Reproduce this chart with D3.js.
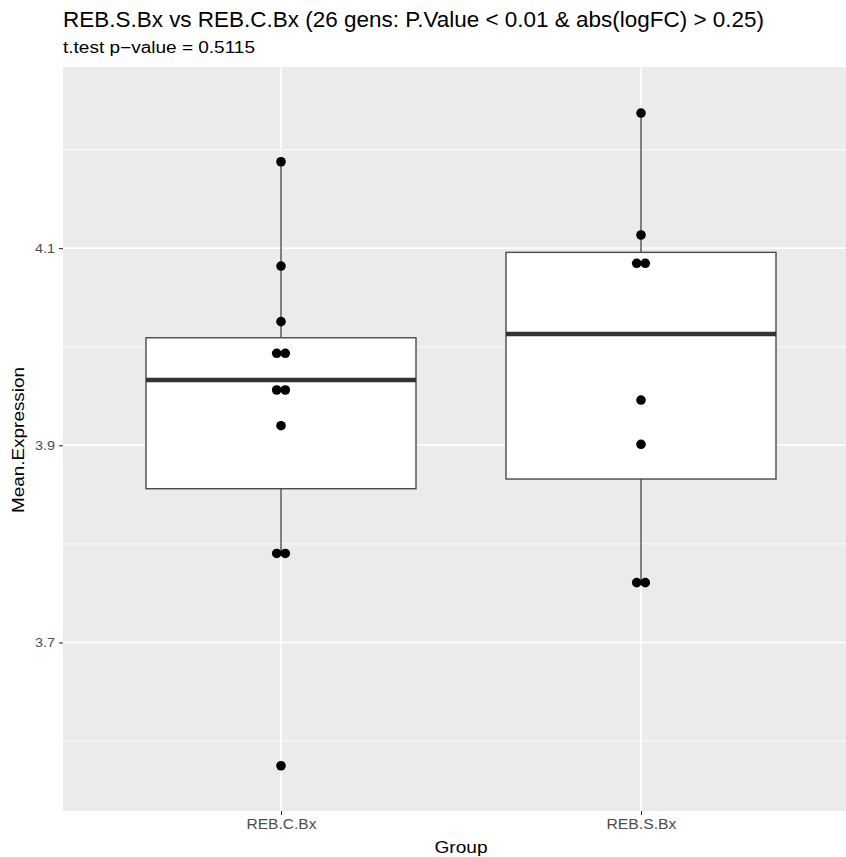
<!DOCTYPE html>
<html>
<head>
<meta charset="utf-8">
<script src="https://cdn.jsdelivr.net/npm/d3@7/dist/d3.min.js"></script>
<style>
  html, body { margin: 0; padding: 0; background: #ffffff; }
  svg { display: block; }
  text { font-family: "Liberation Sans Narrow", "Liberation Sans", Arial, sans-serif; }
</style>
</head>
<body>
<svg id="chart" width="846" height="857"></svg>
<script>
// Groups on the x axis
const groups = ["REB.C.Bx", "REB.S.Bx"];

// Box statistics per group: lower whisker, Q1, median, Q3, upper whisker
const whiskerLow  = [3.7905, 3.7607];
const q1          = [3.8560, 3.8658];
const median      = [3.9662, 4.0129];
const q3          = [4.0091, 4.0957];
const whiskerHigh = [4.1876, 4.2370];

// Dot-plot bins (bin centre and number of stacked dots) per group
const dotBinsC   = [4.1876, 4.0818, 4.0254, 3.9933, 3.9561, 3.9199, 3.7903, 3.5750];
const dotCountsC = [1, 1, 1, 2, 2, 1, 2, 1];
const dotBinsS   = [4.2370, 4.1133, 4.0846, 3.9459, 3.9010, 3.7607];
const dotCountsS = [1, 1, 2, 1, 1, 2];

// Axis ticks
const yMajorTicks = [3.7, 3.9, 4.1];
const yMinorTicks = [3.6, 3.8, 4.0, 4.2];
const yTickLabels = ["3.7", "3.9", "4.1"];

const titleText    = "REB.S.Bx vs REB.C.Bx (26 gens: P.Value < 0.01 & abs(logFC) > 0.25)";
const subtitleText = "t.test p\u2212value = 0.5115";
const xTitle = "Group";
const yTitle = "Mean.Expression";

// ---- layout ----
const panel = { left: 63, top: 67, right: 846, bottom: 811 };
const svg = d3.select("#chart");
const fontStack = "'Liberation Sans Narrow', 'Liberation Sans', Arial, sans-serif";

const y = d3.scaleLinear()
  .domain([3.5291, 4.2837])
  .range([panel.bottom, panel.top]);

// Discrete x scale: one unit between groups, 0.6 unit expansion on each side
const unit = 360;
const x = d3.scalePoint()
  .domain(groups)
  .range([panel.left + 218, panel.left + 218 + unit]);

// Panel background
svg.append("rect")
  .attr("x", panel.left).attr("y", panel.top)
  .attr("width", panel.right - panel.left)
  .attr("height", panel.bottom - panel.top)
  .attr("fill", "#ebebeb");

const grid = svg.append("g");
grid.selectAll(".minor").data(yMinorTicks).join("line")
  .attr("x1", panel.left).attr("x2", panel.right)
  .attr("y1", d => y(d)).attr("y2", d => y(d))
  .attr("stroke", "#ffffff").attr("stroke-width", 0.8);
grid.selectAll(".major").data(yMajorTicks).join("line")
  .attr("x1", panel.left).attr("x2", panel.right)
  .attr("y1", d => y(d)).attr("y2", d => y(d))
  .attr("stroke", "#ffffff").attr("stroke-width", 1.6);
grid.selectAll(".vmajor").data(groups).join("line")
  .attr("x1", d => x(d)).attr("x2", d => x(d))
  .attr("y1", panel.top).attr("y2", panel.bottom)
  .attr("stroke", "#ffffff").attr("stroke-width", 1.6);

// Boxplots
const boxWidth = 0.75 * unit;
const boxes = groups.map((g, i) => ({
  g, lo: whiskerLow[i], q1: q1[i], med: median[i], q3: q3[i], hi: whiskerHigh[i]
}));
const boxG = svg.append("g");
boxes.forEach(b => {
  const cx = x(b.g);
  boxG.append("line")
    .attr("x1", cx).attr("x2", cx)
    .attr("y1", y(b.hi)).attr("y2", y(b.q3))
    .attr("stroke", "#4a4a4a").attr("stroke-width", 1.4);
  boxG.append("line")
    .attr("x1", cx).attr("x2", cx)
    .attr("y1", y(b.q1)).attr("y2", y(b.lo))
    .attr("stroke", "#4a4a4a").attr("stroke-width", 1.4);
  boxG.append("rect")
    .attr("x", cx - boxWidth / 2).attr("y", y(b.q3))
    .attr("width", boxWidth).attr("height", y(b.q1) - y(b.q3))
    .attr("fill", "#ffffff").attr("stroke", "#4a4a4a").attr("stroke-width", 1.4);
  boxG.append("line")
    .attr("x1", cx - boxWidth / 2).attr("x2", cx + boxWidth / 2)
    .attr("y1", y(b.med)).attr("y2", y(b.med))
    .attr("stroke", "#333333").attr("stroke-width", 4.5);
});

// Dots, stacked centred within each bin
const dotR = 4.8;
const dotStep = 8.6;
const dots = [];
[[groups[0], dotBinsC, dotCountsC], [groups[1], dotBinsS, dotCountsS]].forEach(([g, bins, counts]) => {
  bins.forEach((v, i) => {
    const n = counts[i];
    for (let k = 0; k < n; k++) {
      dots.push({ g, v, off: (k - (n - 1) / 2) * dotStep });
    }
  });
});
svg.append("g").selectAll("circle").data(dots).join("circle")
  .attr("cx", d => x(d.g) + d.off)
  .attr("cy", d => y(d.v))
  .attr("r", dotR)
  .attr("fill", "#000000");

// Y axis
const yAxis = d3.axisLeft(y)
  .tickValues(yMajorTicks)
  .tickFormat((d, i) => yTickLabels[i])
  .tickSize(4).tickPadding(4);
const yAxisG = svg.append("g")
  .attr("transform", `translate(${panel.left},0)`)
  .call(yAxis);
yAxisG.select(".domain").remove();
yAxisG.selectAll(".tick line").attr("stroke", "#333333").attr("stroke-width", 1.1);
yAxisG.selectAll(".tick text")
  .attr("fill", "#4d4d4d").style("font-size", "13.5px")
  .style("font-family", fontStack)
  .attr("textLength", 20).attr("lengthAdjust", "spacingAndGlyphs");

// X axis
const xAxis = d3.axisBottom(x).tickSize(4).tickPadding(4);
const xAxisG = svg.append("g")
  .attr("transform", `translate(0,${panel.bottom})`)
  .call(xAxis);
xAxisG.select(".domain").remove();
xAxisG.selectAll(".tick line").attr("stroke", "#333333").attr("stroke-width", 1.1);
xAxisG.selectAll(".tick text")
  .attr("fill", "#4d4d4d").style("font-size", "14px")
  .style("font-family", fontStack)
  .attr("textLength", 70).attr("lengthAdjust", "spacingAndGlyphs");

// Axis titles
svg.append("text")
  .attr("x", 461).attr("y", 853)
  .attr("text-anchor", "middle")
  .style("font-size", "17px").attr("fill", "#000000")
  .attr("textLength", 53).attr("lengthAdjust", "spacingAndGlyphs")
  .text(xTitle);
svg.append("text")
  .attr("transform", `translate(24,440) rotate(-90)`)
  .attr("text-anchor", "middle")
  .style("font-size", "17px").attr("fill", "#000000")
  .attr("textLength", 146).attr("lengthAdjust", "spacingAndGlyphs")
  .text(yTitle);

// Title and subtitle
svg.append("text")
  .attr("x", 63).attr("y", 27)
  .style("font-size", "21.5px").attr("fill", "#000000")
  .attr("textLength", 701).attr("lengthAdjust", "spacingAndGlyphs")
  .text(titleText);
svg.append("text")
  .attr("x", 63).attr("y", 53)
  .style("font-size", "16px").attr("fill", "#000000")
  .attr("textLength", 192).attr("lengthAdjust", "spacingAndGlyphs")
  .text(subtitleText);
</script>
</body>
</html>
